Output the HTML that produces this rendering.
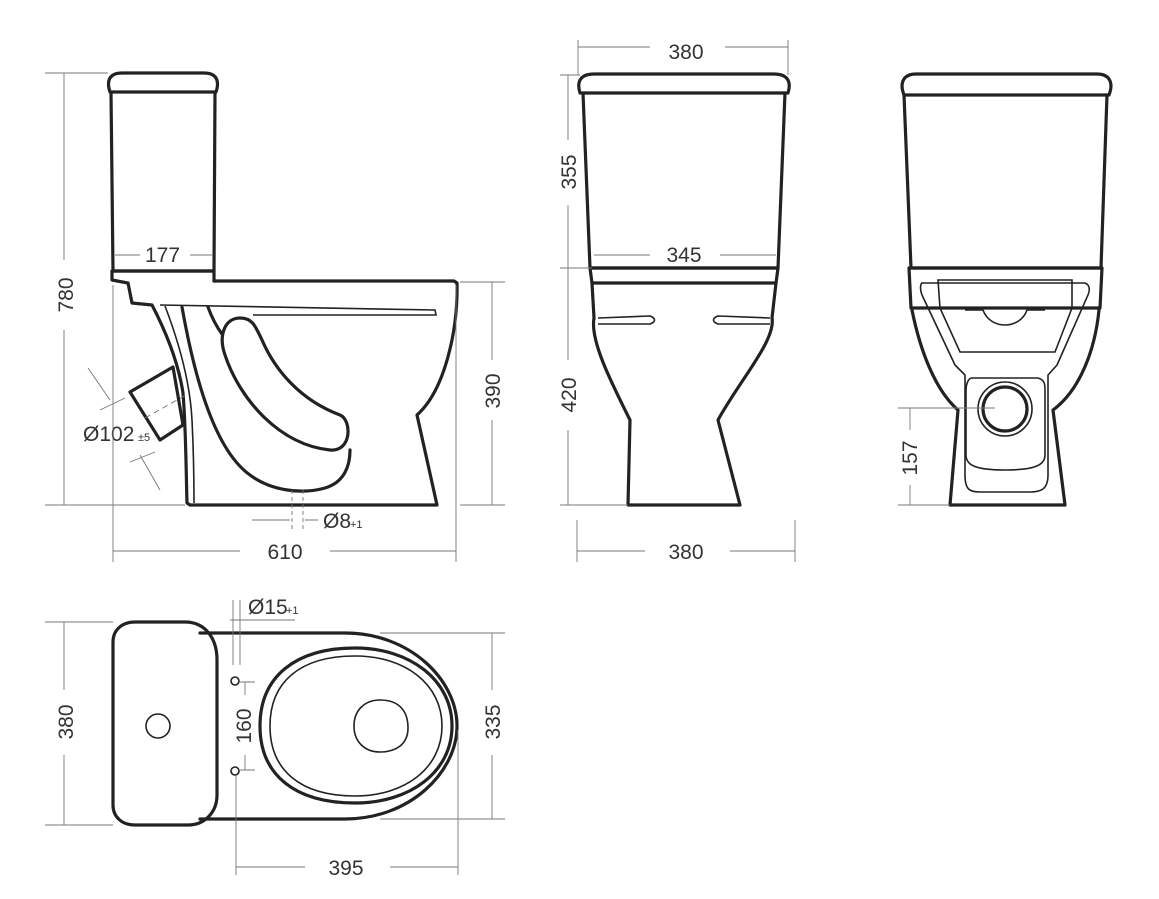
<!DOCTYPE html>
<html><head><style>
html,body{margin:0;padding:0;background:#fff}
svg{display:block}
text{font-family:"Liberation Sans",sans-serif;fill:#333;font-size:21px}
.o{fill:none;stroke:#222;stroke-width:3.2;stroke-linejoin:round;stroke-linecap:round}
.m{fill:none;stroke:#222;stroke-width:1.6}
.d{fill:none;stroke:#777;stroke-width:0.9}
</style></head><body>
<svg width="1159" height="899" viewBox="0 0 1159 899">
<!-- SIDE VIEW -->
<path class="o" d="M110,92 C106,80 110,73 122,73 L204,73 C216,73 220,80 216,92 Z"/>
<path class="o" d="M111,92 L113,271 L214,271 L215,92"/>
<path class="o" d="M113,271 L214,271 L214,281"/>
<path class="o" d="M112,271 L112,280 L128,283 L132,303 L152,305 C165,330 178,360 183,393 C186,430 186,470 187,503 L190,505 L437,505 L417,415 C445,390 458,330 457,283 L454,281 L214,281"/>
<path class="m" d="M160,305 L435,310 L436,315 L253,315"/>
<path class="m" d="M165,306 C178,340 190,380 192,420 C194,460 194,490 194,503"/>
<path class="o" d="M182,307 C195,380 215,450 250,475 C270,490 300,495 325,488 C345,482 350,465 350,450"/>
<path class="o" d="M208,307 C212,318 216,326 222,334"/>
<path class="o" d="M240,318 C225,318 218,335 225,355 C240,400 280,445 330,450 C352,452 352,420 340,415 C300,400 275,370 262,340 C255,325 252,318 240,318 Z"/>
<polygon class="o" points="130,392 173,367 183,425 160,440"/>
<path class="d" stroke-dasharray="6,4" d="M145,418 L186,395"/>
<path class="d" stroke-dasharray="4,3" d="M292,490 L292,530 M303,490 L303,530"/>
<path class="d" d="M88,368 L110,400 M100,410 L125,398 M130,462 L155,452 M140,455 L160,490"/>
<text x="83" y="441">Ø102</text><text x="138" y="441" style="font-size:11px">±5</text>
<path class="d" d="M252,520 L290,520 M305,520 L318,520"/>
<text x="323" y="528">Ø8</text><text x="350" y="528" style="font-size:11px">+1</text>
<path class="d" d="M115,255 L140,255 M190,255 L212,255"/>
<text x="145" y="262">177</text>
<path class="d" d="M45,73 L108,73 M45,505 L185,505 M64,73 L64,260 M64,330 L64,505"/>
<text transform="translate(73,295) rotate(-90)" text-anchor="middle">780</text>
<path class="d" d="M113,285 L113,562 M456,285 L456,562 M113,551 L240,551 M330,551 L456,551"/>
<text x="285" y="559" text-anchor="middle">610</text>
<path class="d" d="M460,282 L505,282 M460,505 L505,505 M492,282 L492,360 M492,420 L492,505"/>
<text transform="translate(500,391) rotate(-90)" text-anchor="middle">390</text>
<!-- FRONT VIEW -->
<path class="o" d="M580,93 C576,80 582,74 594,74 L774,74 C786,74 792,80 788,93 Z"/>
<path class="o" d="M583,93 L590,268 L778,268 L785,93"/>
<path class="o" d="M590,268 L778,268 L776,283 L592,283 Z"/>
<path class="o" d="M592,283 L594,318 C590,340 610,380 630,420 L628,505 L740,505 L718,420 C740,380 776,340 772,318 L776,283"/>
<path class="m" d="M598,318 L650,316 C656,318 656,322 650,324 L598,324 M770,318 L718,316 C712,318 712,322 718,324 L770,324"/>
<path class="d" d="M578,40 L578,75 M788,40 L788,75 M578,47 L650,47 M725,47 L788,47"/>
<text x="686" y="59" text-anchor="middle">380</text>
<path class="d" d="M560,75 L580,75 M560,268 L592,268 M560,505 L628,505 M568,75 L568,140 M568,205 L568,268 M568,268 L568,360 M568,430 L568,505 M594,255 L650,255 M720,255 L776,255"/>
<text transform="translate(576,172) rotate(-90)" text-anchor="middle">355</text>
<text transform="translate(576,395) rotate(-90)" text-anchor="middle">420</text>
<text x="684" y="262" text-anchor="middle">345</text>
<path class="d" d="M577,520 L577,562 M795,520 L795,562 M577,551 L645,551 M730,551 L795,551"/>
<text x="686" y="559" text-anchor="middle">380</text>
<!-- BACK VIEW -->
<path class="o" d="M904,95 C899,82 904,74 916,74 L1097,74 C1109,74 1114,82 1109,95 Z"/>
<path class="o" d="M904,95 L911,268 L1101,268 L1107,95"/>
<path class="o" d="M909,268 L1102,268 L1100,308 L911,308 Z"/>
<path class="o" d="M912,310 C920,350 935,390 958,410 L950,505 L1065,505 L1053,410 C1080,390 1095,350 1099,310"/>
<path class="m" d="M922,283 L1085,283 C1090,285 1090,290 1088,295 L1057,365 L1048,375 L1048,475 C1048,490 1040,492 1030,492 L980,492 C970,492 965,490 965,475 L965,375 L955,365 L922,295 C920,290 920,285 922,283 Z"/>
<path class="m" d="M938,280 L1072,280 L1072,308 L1055,352 L960,352 L940,308 Z"/>
<path class="m" d="M965,310 L983,310 C990,330 1020,330 1027,310 L1045,310"/>
<path class="m" d="M972,378 L1038,378 C1045,380 1045,385 1045,390 L1045,455 C1045,465 1035,470 1005,470 C975,470 966,465 966,455 L966,390 C966,385 968,378 972,378 Z"/>
<circle cx="1005" cy="409" r="27" class="m"/>
<circle cx="1005" cy="409" r="22" class="o"/>
<path class="d" d="M898,408 L995,408 M898,505 L950,505 M910,408 L910,430 M910,485 L910,505"/>
<text transform="translate(917,458) rotate(-90)" text-anchor="middle">157</text>
<!-- TOP VIEW -->
<path class="o" d="M200,633 L345,633 C410,633 457,680 457,726 C457,772 410,819 345,819 L200,819"/>
<path class="o" d="M135,622 L185,622 C205,622 217,638 217,660 L217,795 C217,812 205,825 188,825 L135,825 C122,825 113,817 113,805 L113,642 C113,630 122,622 135,622 Z"/>
<circle cx="158" cy="726" r="12" class="m"/>
<path class="o" d="M355,648 C410,648 452,680 452,726 C452,772 410,803 355,803 C295,803 260,775 260,726 C260,677 295,648 355,648 Z"/>
<path class="m" d="M355,656 C405,656 442,684 442,726 C442,768 405,796 355,796 C300,796 270,770 270,726 C270,682 300,656 355,656 Z"/>
<path class="m" d="M380,700 C400,700 408,712 408,728 C408,745 395,752 380,752 C365,752 354,742 354,726 C354,710 365,700 380,700 Z"/>
<circle cx="235" cy="681" r="4" class="m"/>
<circle cx="235" cy="771" r="4" class="m"/>
<path class="d" d="M230,620 L295,620 M233,600 L233,665 M240,600 L240,665 M240,682 L255,682 M240,770 L255,770 M245,682 L245,695 M245,755 L245,770 M236,775 L236,875"/>
<text x="248" y="614">Ø15</text><text x="286" y="614" style="font-size:11px">+1</text>
<text transform="translate(251,726) rotate(-90)" text-anchor="middle">160</text>
<path class="d" d="M45,622 L113,622 M45,825 L113,825 M64,622 L64,690 M64,755 L64,825"/>
<text transform="translate(73,722) rotate(-90)" text-anchor="middle">380</text>
<path class="d" d="M380,633 L505,633 M380,819 L505,819 M492,633 L492,690 M492,755 L492,819"/>
<text transform="translate(500,722) rotate(-90)" text-anchor="middle">335</text>
<path class="d" d="M458,730 L458,875 M236,867 L305,867 M390,867 L458,867"/>
<text x="346" y="875" text-anchor="middle">395</text>
</svg>
</body></html>
